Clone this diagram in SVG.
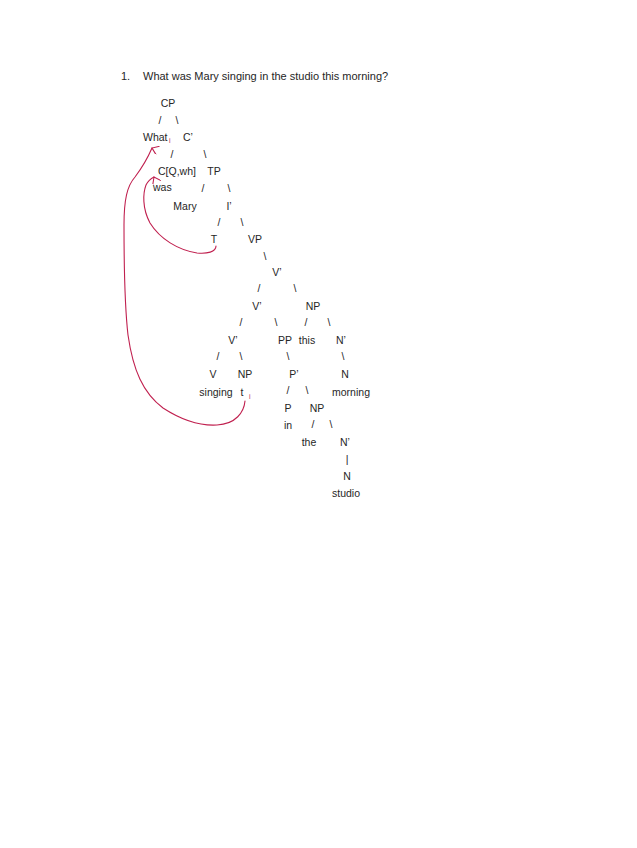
<svg xmlns="http://www.w3.org/2000/svg" width="637" height="848" viewBox="0 0 637 848">
<style>
text{font-family:"Liberation Sans",Arial,sans-serif;font-size:10.5px;fill:#262626}
.t{font-size:11px}
.m{text-anchor:middle}
.sl{text-anchor:middle;font-size:10.5px}
.red{fill:#c0204f;font-size:7px}
.arr{fill:none;stroke:#c0204f;stroke-width:1.1;stroke-linecap:round;stroke-linejoin:round}
</style>
<defs>
<marker id="ah" viewBox="0 0 10 10" refX="5" refY="1" markerWidth="9" markerHeight="9" orient="auto-start-reverse" markerUnits="userSpaceOnUse"><path d="M0,8 L5,1 L10,8" fill="none" stroke="#c0204f" stroke-width="1.2"/></marker>
</defs>
<rect width="637" height="848" fill="#ffffff"/>
<g id="title"><text class="t" x="121" y="80">1.</text><text class="t" x="143" y="80">What was Mary singing in the studio this morning?</text></g>
<g id="connectors">
<text class="sl" x="160" y="124">/</text><text class="sl" x="177" y="124">\</text>
<text class="sl" x="172" y="158">/</text><text class="sl" x="205" y="158">\</text>
<text class="sl" x="203" y="192">/</text><text class="sl" x="229" y="192">\</text>
<text class="sl" x="219" y="226">/</text><text class="sl" x="242" y="226">\</text>
<text class="sl" x="265" y="260">\</text>
<text class="sl" x="259" y="292">/</text><text class="sl" x="295" y="292">\</text>
<text class="sl" x="241" y="326">/</text><text class="sl" x="276" y="326">\</text><text class="sl" x="306" y="326">/</text><text class="sl" x="329" y="326">\</text>
<text class="sl" x="218" y="360">/</text><text class="sl" x="241" y="360">\</text><text class="sl" x="288" y="360">\</text><text class="sl" x="343" y="360">\</text>
<text class="sl" x="288" y="394">/</text><text class="sl" x="307" y="394">\</text>
<text class="sl" x="313" y="428">/</text><text class="sl" x="331" y="428">\</text>
<text class="sl" x="347" y="463">|</text>
<path class="arr" marker-end="url(#ah)" d="M216,246 C216,252 207,254 197,253 C178,250 160,239 150,223 C142,208 143,193 146,185 C148,181 150,179 154,177"/>
<path class="arr" marker-end="url(#ah)" d="M245,401 C244,412 236,424 217,425 C200,426 183,421 163,408 C143,393 133,370 128,335 C124,300 124,260 124,225 C124,200 127,186 135,177 C141,169 146,162 152,148"/>
</g>
<g id="n-CP"><text class="m" x="168" y="107">CP</text></g>
<g id="n-What"><text x="143" y="141">What</text><text class="red" x="169" y="143">i</text></g>
<g id="n-C1"><text class="m" x="188" y="141">C’</text></g>
<g id="n-C"><text x="158" y="175">C[Q,wh]</text></g>
<g id="n-TP"><text class="m" x="214" y="175">TP</text></g>
<g id="n-was"><text x="153" y="191">was</text></g>
<g id="n-Mary"><text class="m" x="185" y="210">Mary</text></g>
<g id="n-I1"><text class="m" x="229" y="210">I’</text></g>
<g id="n-T"><text class="m" x="214" y="243">T</text></g>
<g id="n-VP"><text class="m" x="255" y="243">VP</text></g>
<g id="n-V1a"><text class="m" x="277" y="276">V’</text></g>
<g id="n-V1b"><text class="m" x="257" y="310">V’</text></g>
<g id="n-NP1"><text class="m" x="313" y="310">NP</text></g>
<g id="n-V1c"><text class="m" x="233" y="344">V’</text></g>
<g id="n-PP"><text class="m" x="285" y="344">PP</text></g>
<g id="n-this"><text class="m" x="307" y="344">this</text></g>
<g id="n-N1a"><text class="m" x="341" y="344">N’</text></g>
<g id="n-V"><text class="m" x="213" y="378">V</text></g>
<g id="n-NP2"><text class="m" x="245" y="378">NP</text></g>
<g id="n-P1"><text class="m" x="294" y="378">P’</text></g>
<g id="n-Na"><text class="m" x="345" y="378">N</text></g>
<g id="n-singing"><text class="m" x="216" y="396">singing</text></g>
<g id="n-t"><text class="m" x="242" y="396">t</text><text class="red" x="249" y="399">i</text></g>
<g id="n-morning"><text class="m" x="351" y="396">morning</text></g>
<g id="n-P"><text class="m" x="288" y="412">P</text></g>
<g id="n-NP3"><text class="m" x="317" y="412">NP</text></g>
<g id="n-in"><text class="m" x="288" y="429">in</text></g>
<g id="n-the"><text class="m" x="309" y="446">the</text></g>
<g id="n-N1b"><text class="m" x="345" y="446">N’</text></g>
<g id="n-Nb"><text class="m" x="347" y="480">N</text></g>
<g id="n-studio"><text class="m" x="346" y="497">studio</text></g>
</svg>
